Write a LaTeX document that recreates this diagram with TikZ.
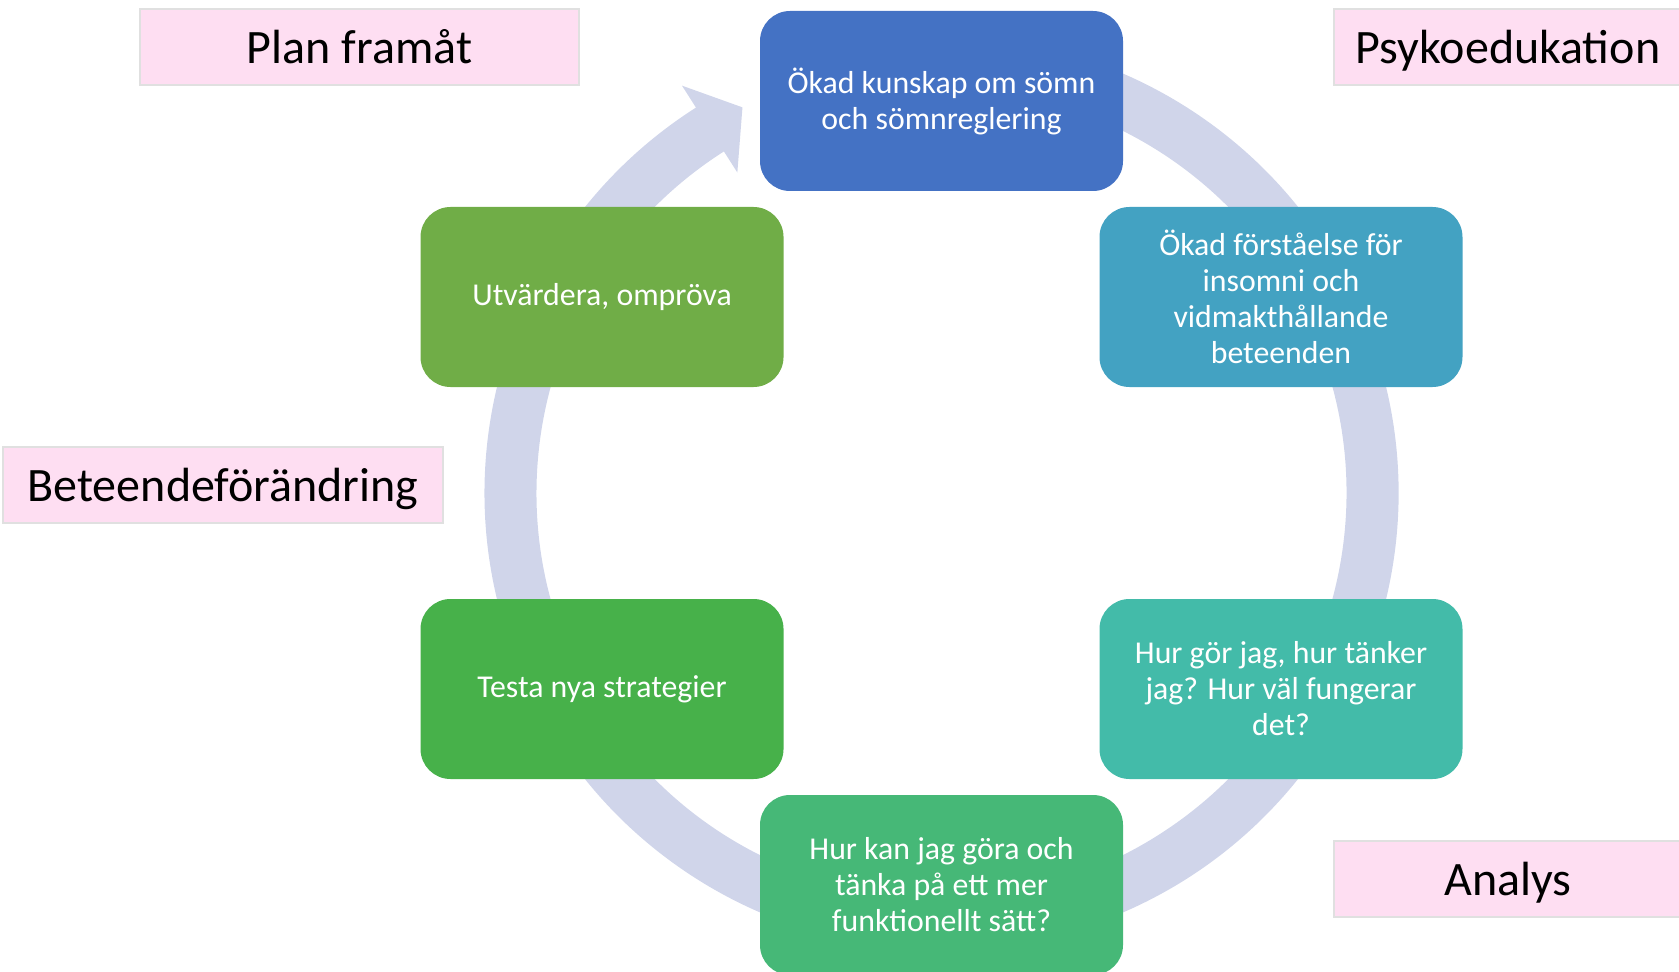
\documentclass[tikz,border=0pt]{standalone}
\usepackage{fontspec}
\setmainfont{Carlito}
\usetikzlibrary{calc}
\definecolor{ringcol}{RGB}{208,213,234}
\definecolor{tagpink}{RGB}{254,222,242}
\definecolor{taggrey}{RGB}{224,224,224}
\definecolor{c0}{RGB}{68,114,196}
\definecolor{c1}{RGB}{67,162,194}
\definecolor{c2}{RGB}{67,187,169}
\definecolor{c3}{RGB}{70,184,119}
\definecolor{c4}{RGB}{71,177,74}
\definecolor{c5}{RGB}{112,173,71}
\begin{document}
\begin{tikzpicture}[x=0.5pt, y=0.5pt,
    box/.style={rectangle, rounded corners=15pt, minimum width=181.5pt, minimum height=90pt,
      text=white, align=center, font=\fontsize{15.9}{18}\selectfont},
    tag/.style={rectangle, fill=tagpink, draw=taggrey, line width=1pt, minimum height=38pt,
      text height=20pt, text depth=3.5pt, font=\fontsize{24}{28}\selectfont}]
    \newcommand\XC{941.5}
    \newcommand\YC{478}
    \newcommand\RN{392}
    \useasboundingbox (0,0) rectangle (1679,971);
    % ring with one head
    \fill[ringcol, shift={(\XC,\YC)}] (110:457) arc[start angle=110, end angle=-237.5, radius=457]
      -- (122.5:483) -- (117.3:434) -- (122.5:380) -- (122.5:405)
      arc[start angle=-237.5, end angle=110, radius=405] -- cycle;
    \node[box, fill=c0] (B0) at ($(\XC,\YC)+(90:\RN)$) {Ökad kunskap om sömn\\och sömnreglering};
    \node[box, fill=c1] (B1) at ($(\XC,\YC)+(30:\RN)$) {Ökad förståelse för\\insomni och\\vidmakthållande\\beteenden};
    \node[box, fill=c2] (B2) at ($(\XC,\YC)+(-30:\RN)$) {Hur gör jag, hur tänker\\jag? Hur väl fungerar\\det?};
    \node[box, fill=c3] (B3) at ($(\XC,\YC)+(-90:\RN)$) {Hur kan jag göra och\\tänka på ett mer\\funktionellt sätt?};
    \node[box, fill=c4] (B4) at ($(\XC,\YC)+(-150:\RN)$) {Testa nya strategier};
    \node[box, fill=c5] (B5) at ($(\XC,\YC)+(150:\RN)$) {Utvärdera, ompröva};
    % phase labels
    \node[tag, minimum width=219.5pt] (L0) at (359.5, 924) {Plan framåt};
    \node[tag, minimum width=174pt] (L1) at (1508, 924) {Psykoedukation};
    \node[tag, minimum width=174pt] (L2) at (1508, 92.5) {Analys};
    \node[tag, minimum width=220pt] (L3) at (223, 486) {Beteendeförändring};
\end{tikzpicture}
\end{document}
